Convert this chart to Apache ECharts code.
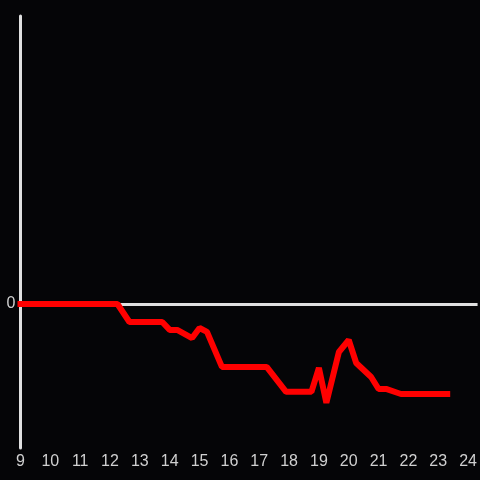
<!DOCTYPE html>
<html>
<head>
<meta charset="utf-8">
<script src="https://cdn.jsdelivr.net/npm/echarts@6/dist/echarts.min.js"></script>
<style>
  html, body { margin: 0; padding: 0; background: #050507; }
  #chart { width: 480px; height: 480px; }
</style>
</head>
<body>
<div id="chart"></div>
<script>
// hours of day (x) and value (y)
var hours = [9, 12.25, 12.65, 13.75, 14.0, 14.25, 14.75, 15.0, 15.25, 15.75,
             17.25, 17.9, 18.75, 19.0, 19.25, 19.67, 20.0, 20.25, 20.75, 21.0,
             21.25, 21.75, 23.3];
var values = [0, 0, -0.375, -0.375, -0.54, -0.54, -0.71, -0.5, -0.58, -1.31,
              -1.31, -1.83, -1.83, -1.33, -2.06, -1.0, -0.75, -1.23, -1.52, -1.77,
              -1.77, -1.875, -1.875];

var points = [];
for (var i = 0; i < hours.length; i++) {
    points.push([hours[i], values[i]]);
}

var chart = echarts.init(document.getElementById('chart'));
var option = {
    backgroundColor: '#050507',
    animation: false,
    grid: { left: 20.5, right: 0, top: 16, bottom: 32 },
    xAxis: {
        type: 'value',
        min: 9,
        max: 24.317,
        interval: 1,
        axisLine: { show: false, onZero: false },
        axisTick: { show: false },
        splitLine: { show: false },
        axisLabel: {
            color: '#d0d0d0',
            fontSize: 16,
            margin: 6,
            showMaxLabel: false
        }
    },
    yAxis: {
        type: 'value',
        min: -3,
        max: 6,
        interval: 3,
        axisLine: { show: true, lineStyle: { color: '#e0e0e0', width: 3 } },
        axisTick: { show: false },
        splitLine: { show: false },
        axisLabel: {
            color: '#d0d0d0',
            fontSize: 16,
            margin: 5,
            padding: [5, 0, 0, 0],
            formatter: function (v) { return v === 0 ? '0' : ''; }
        }
    },
    series: [{
        type: 'line',
        data: points,
        showSymbol: false,
        symbol: 'none',
        lineStyle: { color: '#ff0000', width: 6, cap: 'square' },
        z: 3,
        markLine: {
            silent: true,
            symbol: 'none',
            label: { show: false },
            lineStyle: { color: '#e0e0e0', width: 3, type: 'solid' },
            data: [{ yAxis: 0 }],
            z: 1
        }
    }]
};
chart.setOption(option);
</script>
</body>
</html>
